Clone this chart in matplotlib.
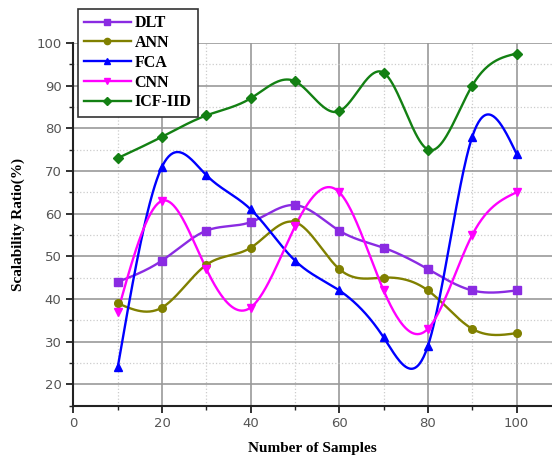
import matplotlib
matplotlib.use('Agg')
from matplotlib import pyplot as plt
from matplotlib.ticker import MultipleLocator
import numpy as np

# data
samples = [10, 20, 30, 40, 50, 60, 70, 80, 90, 100]
dlt = [44, 49, 56, 58, 62, 56, 52, 47, 42, 42]
ann = [39, 38, 48, 52, 58, 47, 45, 42, 33, 32]
fca = [24, 71, 69, 61, 49, 42, 31, 29, 78, 74]
cnn = [37, 63, 47, 38, 57, 65, 42, 33, 55, 65]
icf = [73, 78, 83, 87, 91, 84, 93, 75, 90, 97.5]

names = ['DLT', 'ANN', 'FCA', 'CNN', 'ICF-IID']
colors = ['#8a2be2', '#808000', '#0000ff', '#ff00ff', '#138013']
markers = ['s', 'o', '^', 'v', 'D']


def natural_spline(x, y, n=400):
    # natural cubic spline, like Origin's spline connect
    x = np.asarray(x, float)
    y = np.asarray(y, float)
    k = len(x)
    h = np.diff(x)
    A = np.zeros((k, k))
    b = np.zeros(k)
    A[0, 0] = 1
    A[-1, -1] = 1
    for i in range(1, k - 1):
        A[i, i - 1] = h[i - 1]
        A[i, i] = 2 * (h[i - 1] + h[i])
        A[i, i + 1] = h[i]
        b[i] = 6 * ((y[i + 1] - y[i]) / h[i] - (y[i] - y[i - 1]) / h[i - 1])
    m = np.linalg.solve(A, b)
    xs = np.linspace(x[0], x[-1], n)
    idx = np.clip(np.searchsorted(x, xs) - 1, 0, k - 2)
    x0, x1 = x[idx], x[idx + 1]
    hh = x1 - x0
    t0 = x1 - xs
    t1 = xs - x0
    ys = (m[idx] * t0 ** 3 + m[idx + 1] * t1 ** 3) / (6 * hh) \
        + (y[idx] / hh - m[idx] * hh / 6) * t0 \
        + (y[idx + 1] / hh - m[idx + 1] * hh / 6) * t1
    return xs, ys


fig = plt.figure(figsize=(5.52, 4.61), dpi=100)
ax = fig.add_axes([0.133, 0.12, 0.867, 0.787])

handles = []
for vals, name, c, mk in zip([dlt, ann, fca, cnn, icf], names, colors, markers):
    xs, ys = natural_spline(samples, vals)
    ms = 5.5 if mk != 'D' else 4.8
    ax.plot(xs, ys, color=c, lw=1.7, zorder=3)
    ax.plot(samples, vals, ls='none', marker=mk, color=c, ms=ms, zorder=4)
    h, = ax.plot([], [], color=c, lw=1.7, marker=mk, ms=ms - 1)
    handles.append(h)

ax.set_xlim(0, 108)
ax.set_ylim(15, 100)
ax.xaxis.set_major_locator(MultipleLocator(20))
ax.xaxis.set_minor_locator(MultipleLocator(10))
ax.yaxis.set_major_locator(MultipleLocator(10))
ax.yaxis.set_minor_locator(MultipleLocator(5))
ax.set_yticks([20, 30, 40, 50, 60, 70, 80, 90, 100])

ax.grid(which='major', color='#999999', lw=1.2, zorder=0)
ax.grid(which='minor', color='#cccccc', lw=0.9, ls=':', zorder=0)
ax.set_axisbelow(True)

for s in ['top', 'right']:
    ax.spines[s].set_visible(False)
for s in ['left', 'bottom']:
    ax.spines[s].set_linewidth(1.5)
    ax.spines[s].set_color('#222222')

ax.tick_params(which='major', length=5, width=1.3, color='#222222',
               labelsize=9.5, labelcolor='#555555')
ax.tick_params(which='minor', length=3, width=1.0, color='#222222')

ax.set_xlabel('Number of Samples', family='Liberation Serif', weight='bold',
              fontsize=11, labelpad=8)
ax.set_ylabel('Scalability Ratio(%)', family='Liberation Serif', weight='bold',
              fontsize=11, labelpad=8)

leg = fig.legend(handles, names, loc='upper left', bbox_to_anchor=(0.141, 0.981),
                 borderaxespad=0,
                 prop={'family': 'Liberation Serif', 'weight': 'bold', 'size': 11.5},
                 fancybox=False, edgecolor='#333333', framealpha=1,
                 handlelength=2.9, labelspacing=0.24, borderpad=0.4,
                 handletextpad=0.25)
leg.get_frame().set_linewidth(1.2)

fig.savefig('out.png', dpi=100)
